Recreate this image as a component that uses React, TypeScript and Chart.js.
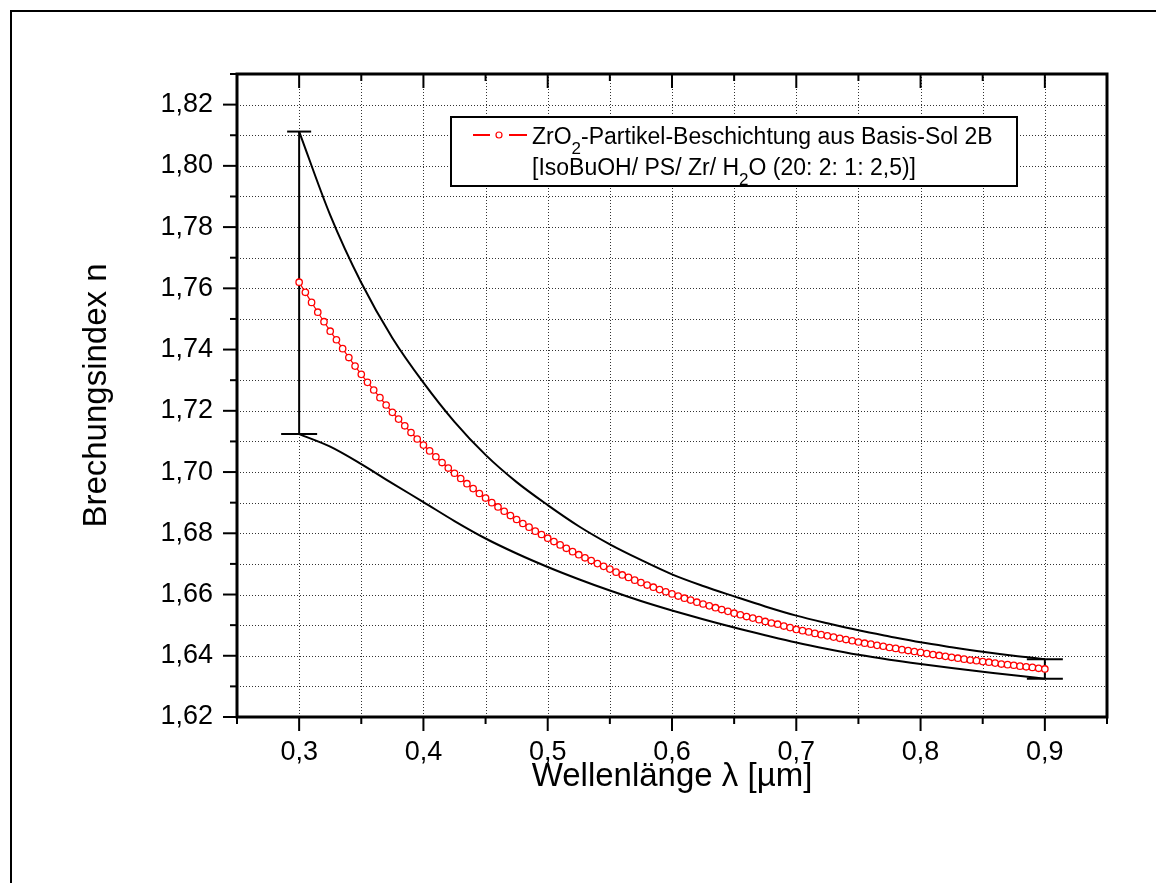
import React, { useEffect, useRef } from 'react';
import { Chart, registerables } from 'chart.js';

Chart.register(...registerables);

const FONT = "'Liberation Sans', Arial, Helvetica, sans-serif";

// ---- data ----
const redLambda = [
  0.300, 0.305, 0.310, 0.315, 0.320, 0.325, 0.330, 0.335, 0.340, 0.345,
  0.350, 0.355, 0.360, 0.365, 0.370, 0.375, 0.380, 0.385, 0.390, 0.395,
  0.400, 0.405, 0.410, 0.415, 0.420, 0.425, 0.430, 0.435, 0.440, 0.445,
  0.450, 0.455, 0.460, 0.465, 0.470, 0.475, 0.480, 0.485, 0.490, 0.495,
  0.500, 0.505, 0.510, 0.515, 0.520, 0.525, 0.530, 0.535, 0.540, 0.545,
  0.550, 0.555, 0.560, 0.565, 0.570, 0.575, 0.580, 0.585, 0.590, 0.595,
  0.600, 0.605, 0.610, 0.615, 0.620, 0.625, 0.630, 0.635, 0.640, 0.645,
  0.650, 0.655, 0.660, 0.665, 0.670, 0.675, 0.680, 0.685, 0.690, 0.695,
  0.700, 0.705, 0.710, 0.715, 0.720, 0.725, 0.730, 0.735, 0.740, 0.745,
  0.750, 0.755, 0.760, 0.765, 0.770, 0.775, 0.780, 0.785, 0.790, 0.795,
  0.800, 0.805, 0.810, 0.815, 0.820, 0.825, 0.830, 0.835, 0.840, 0.845,
  0.850, 0.855, 0.860, 0.865, 0.870, 0.875, 0.880, 0.885, 0.890, 0.895,
  0.900,
];
const redIndex = [
  1.7620, 1.7587, 1.7554, 1.7522, 1.7491, 1.7460, 1.7432, 1.7403, 1.7374, 1.7346,
  1.7319, 1.7293, 1.7268, 1.7243, 1.7219, 1.7195, 1.7173, 1.7151, 1.7129, 1.7108,
  1.7088, 1.7069, 1.7050, 1.7031, 1.7013, 1.6996, 1.6979, 1.6962, 1.6946, 1.6930,
  1.6915, 1.6900, 1.6886, 1.6872, 1.6858, 1.6845, 1.6832, 1.6820, 1.6807, 1.6796,
  1.6784, 1.6773, 1.6762, 1.6751, 1.6740, 1.6730, 1.6720, 1.6711, 1.6701, 1.6692,
  1.6683, 1.6673, 1.6664, 1.6656, 1.6647, 1.6639, 1.6631, 1.6624, 1.6616, 1.6609,
  1.6602, 1.6595, 1.6588, 1.6582, 1.6575, 1.6569, 1.6563, 1.6557, 1.6551, 1.6545,
  1.6539, 1.6534, 1.6528, 1.6523, 1.6518, 1.6512, 1.6507, 1.6503, 1.6497, 1.6492,
  1.6486, 1.6482, 1.6478, 1.6473, 1.6469, 1.6465, 1.6461, 1.6457, 1.6453, 1.6449,
  1.6445, 1.6441, 1.6438, 1.6434, 1.6431, 1.6427, 1.6424, 1.6420, 1.6417, 1.6414,
  1.6411, 1.6407, 1.6404, 1.6401, 1.6398, 1.6395, 1.6392, 1.6389, 1.6386, 1.6384,
  1.6381, 1.6379, 1.6376, 1.6373, 1.6371, 1.6369, 1.6366, 1.6364, 1.6362, 1.6359,
  1.6357,
];

const bandLambda = [
  0.300, 0.325, 0.350, 0.375, 0.400, 0.425, 0.450, 0.475, 0.500, 0.525,
  0.550, 0.575, 0.600, 0.625, 0.650, 0.675, 0.700, 0.725, 0.750, 0.775,
  0.800, 0.825, 0.850, 0.875, 0.900,
];
const upperIndex = [
  1.8112, 1.7839, 1.7618, 1.7438, 1.7292, 1.7164, 1.7056, 1.6967, 1.6892, 1.6823,
  1.6764, 1.6713, 1.6666, 1.6628, 1.6594, 1.6561, 1.6531, 1.6506, 1.6483, 1.6463,
  1.6444, 1.6428, 1.6413, 1.6400, 1.6389,
];
const lowerIndex = [
  1.7124, 1.7083, 1.7026, 1.6963, 1.6902, 1.6840, 1.6783, 1.6734, 1.6690, 1.6650,
  1.6613, 1.6579, 1.6548, 1.6519, 1.6492, 1.6467, 1.6443, 1.6422, 1.6403, 1.6387,
  1.6373, 1.6360, 1.6348, 1.6336, 1.6325,
];

const errLambda = [0.3, 0.9];
const errLow = [1.7124, 1.6325];
const errHigh = [1.8112, 1.6389];

const xMajorTicks = [0.3, 0.4, 0.5, 0.6, 0.7, 0.8, 0.9];
const yMajorTicks = [1.62, 1.64, 1.66, 1.68, 1.70, 1.72, 1.74, 1.76, 1.78, 1.80, 1.82];

const xAxisTitle = 'Wellenlänge λ [µm]';
const yAxisTitle = 'Brechungsindex n';
const legendLine1 = ['ZrO', '2', '-Partikel-Beschichtung aus Basis-Sol 2B'];
const legendLine2 = ['[IsoBuOH/ PS/ Zr/ H', '2', 'O (20: 2: 1: 2,5)]'];

// ---- helpers ----
const isIn = (v: number, list: number[]) => list.some((m) => Math.abs(m - v) < 1e-6);
const fmt = (v: number, d: number) => v.toFixed(d).replace('.', ',');

const drawRich = (ctx: CanvasRenderingContext2D, parts: string[], x: number, y: number, size: number) => {
  let cx = x;
  parts.forEach((p, i) => {
    const sub = i % 2 === 1;
    ctx.font = `${sub ? Math.round(size * 0.75) : size}px ${FONT}`;
    ctx.fillText(p, cx, sub ? y + size * 0.42 : y);
    cx += ctx.measureText(p).width;
  });
};

const originPlugin = {
  id: 'originLook',
  beforeDraw(chart: any) {
    const { ctx, width, height } = chart;
    ctx.save();
    ctx.fillStyle = '#ffffff';
    ctx.fillRect(0, 0, width, height);
    ctx.strokeStyle = '#000';
    ctx.lineWidth = 2;
    ctx.beginPath();
    ctx.moveTo(11, height + 5);
    ctx.lineTo(11, 11);
    ctx.lineTo(width + 5, 11);
    ctx.stroke();
    ctx.restore();
  },
  beforeDatasetsDraw(chart: any) {
    const { ctx, chartArea, scales } = chart;
    const { left, right, top, bottom } = chartArea;
    const xs = scales.x;
    const ys = scales.y;
    ctx.save();
    ctx.strokeStyle = '#333333';
    ctx.lineWidth = 1;
    ctx.setLineDash([1, 2]);
    xs.ticks.forEach((t: any) => {
      if (Math.abs(t.value - xs.min) < 1e-6 || Math.abs(t.value - xs.max) < 1e-6) return;
      const px = Math.round(xs.getPixelForValue(t.value)) + 0.5;
      ctx.beginPath();
      ctx.moveTo(px, top);
      ctx.lineTo(px, bottom);
      ctx.stroke();
    });
    ys.ticks.forEach((t: any) => {
      if (Math.abs(t.value - ys.min) < 1e-6 || Math.abs(t.value - ys.max) < 1e-6) return;
      const py = Math.round(ys.getPixelForValue(t.value)) + 0.5;
      ctx.beginPath();
      ctx.moveTo(left, py);
      ctx.lineTo(right, py);
      ctx.stroke();
    });
    ctx.restore();
  },
  afterDatasetsDraw(chart: any) {
    const { ctx, chartArea, scales } = chart;
    const { left, right, top, bottom } = chartArea;
    const xs = scales.x;
    const ys = scales.y;
    ctx.save();
    // error-bar caps
    ctx.strokeStyle = '#000';
    ctx.lineWidth = 2;
    const capHalf = [[18, 12], [18, 18]];
    errLambda.forEach((lx, i) => {
      const px = xs.getPixelForValue(lx);
      [errLow[i], errHigh[i]].forEach((v, k) => {
        const py = ys.getPixelForValue(v);
        ctx.beginPath();
        ctx.moveTo(px - capHalf[i][k], py);
        ctx.lineTo(px + capHalf[i][k], py);
        ctx.stroke();
      });
    });
    // tick marks
    ctx.lineWidth = 2;
    xs.ticks.forEach((t: any) => {
      const px = xs.getPixelForValue(t.value);
      const len = isIn(t.value, xMajorTicks) ? 14 : 7;
      ctx.beginPath();
      ctx.moveTo(px, bottom);
      ctx.lineTo(px, bottom + len);
      ctx.moveTo(px, top);
      ctx.lineTo(px, top + len);
      ctx.stroke();
    });
    ys.ticks.forEach((t: any) => {
      const py = ys.getPixelForValue(t.value);
      const len = isIn(t.value, yMajorTicks) ? 14 : 7;
      ctx.beginPath();
      ctx.moveTo(left, py);
      ctx.lineTo(left - len, py);
      ctx.stroke();
    });
    // frame
    ctx.lineWidth = 3;
    ctx.strokeRect(left, top, right - left, bottom - top);

    // legend
    const bx = left + 214;
    const by = top + 43;
    const bw = 566;
    const bh = 69;
    ctx.fillStyle = '#fff';
    ctx.fillRect(bx, by, bw, bh);
    ctx.lineWidth = 2;
    ctx.strokeStyle = '#000';
    ctx.strokeRect(bx, by, bw, bh);
    const ly = by + 18;
    ctx.strokeStyle = '#ff0000';
    ctx.lineWidth = 2;
    ctx.beginPath();
    ctx.moveTo(bx + 22, ly);
    ctx.lineTo(bx + 39, ly);
    ctx.moveTo(bx + 58, ly);
    ctx.lineTo(bx + 76, ly);
    ctx.stroke();
    ctx.lineWidth = 1.2;
    ctx.fillStyle = '#fff';
    ctx.beginPath();
    ctx.arc(bx + 48, ly, 3, 0, Math.PI * 2);
    ctx.fill();
    ctx.stroke();
    ctx.fillStyle = '#000';
    ctx.textBaseline = 'alphabetic';
    ctx.textAlign = 'left';
    drawRich(ctx, legendLine1, bx + 81, by + 27, 23);
    drawRich(ctx, legendLine2, bx + 81, by + 58, 23);
    ctx.restore();
  },
};

export default function App() {
  const ref = useRef<HTMLCanvasElement | null>(null);

  useEffect(() => {
    const canvas = ref.current;
    if (!canvas) return;
    const chart = new Chart(canvas, {
      type: 'scatter',
      data: {
        datasets: [
          {
            label: 'ZrO2-Partikel-Beschichtung aus Basis-Sol 2B',
            data: redLambda.map((x, i) => ({ x, y: redIndex[i] })),
            showLine: true,
            borderColor: '#ff0000',
            borderWidth: 1.2,
            pointRadius: 3.2,
            pointBorderWidth: 1.3,
            pointBorderColor: '#ff0000',
            pointBackgroundColor: '#ffffff',
          },
          {
            label: 'upper',
            data: bandLambda.map((x, i) => ({ x, y: upperIndex[i] })),
            showLine: true,
            borderColor: '#000',
            borderWidth: 2,
            pointRadius: 0,
            cubicInterpolationMode: 'monotone',
          },
          {
            label: 'lower',
            data: bandLambda.map((x, i) => ({ x, y: lowerIndex[i] })),
            showLine: true,
            borderColor: '#000',
            borderWidth: 2,
            pointRadius: 0,
            cubicInterpolationMode: 'monotone',
          },
          ...errLambda.map((x, i) => ({
            label: `err${i}`,
            data: [{ x, y: errLow[i] }, { x, y: errHigh[i] }],
            showLine: true,
            borderColor: '#000',
            borderWidth: 2,
            pointRadius: 0,
          })),
        ],
      },
      options: {
        responsive: false,
        animation: false,
        layout: { padding: { left: 0, right: 49, top: 74, bottom: 0 } },
        plugins: {
          legend: { display: false },
          tooltip: { enabled: false },
        },
        scales: {
          x: {
            type: 'linear',
            min: 0.25,
            max: 0.95,
            afterFit: (s: any) => { s.height = 166; },
            grid: { display: false, drawTicks: false },
            border: { display: false },
            ticks: {
              stepSize: 0.05,
              autoSkip: false,
              maxRotation: 0,
              padding: 19,
              color: '#000',
              font: { family: FONT, size: 27 },
              callback: (v: any) => (isIn(Number(v), xMajorTicks) ? fmt(Number(v), 1) : ''),
            },
            title: {
              display: true,
              text: xAxisTitle,
              color: '#000',
              font: { family: FONT, size: 33 },
              padding: { top: 0, bottom: 86 },
            },
          },
          y: {
            type: 'linear',
            min: 1.62,
            max: 1.83,
            afterFit: (s: any) => { s.width = 237; },
            grid: { display: false, drawTicks: false },
            border: { display: false },
            ticks: {
              stepSize: 0.01,
              autoSkip: false,
              padding: 24,
              color: '#000',
              font: { family: FONT, size: 27 },
              callback: (v: any) => (isIn(Number(v), yMajorTicks) ? fmt(Number(v), 2) : ''),
            },
            title: {
              display: true,
              text: yAxisTitle,
              color: '#000',
              font: { family: FONT, size: 33 },
              padding: { top: 77, bottom: 0 },
            },
          },
        },
      },
      plugins: [originPlugin],
    } as any);
    return () => chart.destroy();
  }, []);

  return (
    <div style={{ position: 'fixed', left: 0, top: 0, width: 1156, height: 883, background: '#fff' }}>
      <canvas ref={ref} width={1156} height={883} style={{ display: 'block' }} />
    </div>
  );
}
